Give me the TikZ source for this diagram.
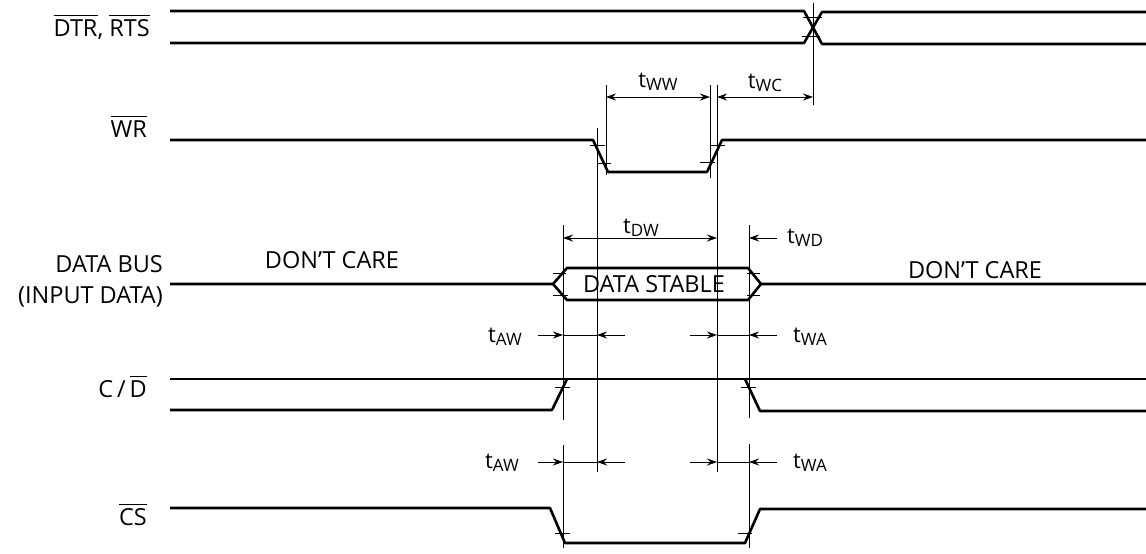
\documentclass[tikz,border=0pt]{standalone}
\usepackage{fontspec}
\setmainfont{Open Sans}
\usepackage{amsmath}
\usepackage{tikz}
\usetikzlibrary{arrows.meta, positioning, calc}
\tikzstyle{wave} = [line width=2.6pt, line join=round]
\tikzstyle{guide} = [line width=0.9pt]
\tikzstyle{tick} = [line width=0.8pt]
\tikzstyle{dim} = [line width=0.9pt, {Stealth[length=10pt,width=7pt]}-{Stealth[length=10pt,width=7pt]}]
\tikzstyle{arrow} = [line width=0.9pt, -{Stealth[length=10pt,width=7pt]}]
\tikzstyle{signame} = [anchor=base east, inner sep=0pt, font=\fontsize{23.5}{26}\selectfont]
\tikzstyle{state} = [anchor=base, inner sep=0pt, font=\fontsize{23.5}{26}\selectfont]
\tikzstyle{tlabel} = [inner sep=0pt, font=\fontsize{22}{24}\selectfont]
\newcommand{\ovl}[1]{$\overline{\mbox{#1}}$}
\newcommand{\tsub}[1]{t\raisebox{-3pt}{\fontsize{17}{17}\selectfont #1}}

\begin{document}
\begin{tikzpicture}[x=1pt, y=-1pt]
\useasboundingbox (0,0) rectangle (1146,554);

% Signal names
\node (dtr_name) [signame] at (150,36) {\ovl{DTR}, \ovl{RTS}};
\node (wr_name) [signame] at (147,137) {\ovl{WR}};
\node (bus_name) [signame] at (163,272) {DATA BUS};
\node (bus_name2) [signame] at (163,303) {(INPUT DATA)};
\node (cd_name) [signame] at (147,397) {C\,/\,\ovl{D}};
\node (cs_name) [signame] at (147,525) {\ovl{CS}};

% Waveforms
\draw [wave] (170,11) -- (804,11) -- (822,44) -- (1146,44);
\draw [wave] (170,43) -- (804,43) -- (822,12) -- (1146,12);
\draw [wave] (170,140) -- (593,140) -- (608,172) -- (707,172) -- (722,140) -- (1146,140);
\draw [wave] (170,284) -- (553,284) -- (567,268) -- (748,268) -- (761,284) -- (1146,284);
\draw [wave] (553,284) -- (567,300) -- (748,300) -- (761,284);
\draw [wave] (170,379) -- (1146,379);
\draw [wave] (170,410) -- (552,410) -- (567,379);
\draw [wave] (745,379) -- (760,411) -- (1146,411);
\draw [wave] (170,508) -- (550,508) -- (565,543) -- (745,543) -- (760,509) -- (1146,509);

% Bus states
\node (care_l) [state] at (332,268) {DON’T CARE};
\node (stable) [state] at (654,292) {DATA STABLE};
\node (care_r) [state] at (975,278) {DON’T CARE};

% Timing guides
\coordinate (ga) at (563,0);
\coordinate (gb) at (597,0);
\coordinate (gc) at (717,0);
\coordinate (gd) at (749,0);
\coordinate (gw1) at (606,0);
\coordinate (gw2) at (710,0);
\coordinate (gk) at (813,0);
\coordinate (r_ww) at (0,97);
\coordinate (r_dw) at (0,238);
\coordinate (r_aw1) at (0,335);
\coordinate (r_aw2) at (0,462);

\draw [guide] ($(gk)+(0,3)$) -- ($(gk)+(0,105)$);
\draw [guide] ($(gw1)+(0,85)$) -- ($(gw1)+(0,175)$);
\draw [guide] ($(gw2)+(0,85)$) -- ($(gw2)+(0,178)$);
\draw [guide] ($(gb)+(0,128)$) -- ($(gb)+(0,472)$);
\draw [guide] ($(gc)+(0,85)$) -- ($(gc)+(0,472)$);
\draw [guide] ($(ga)+(0,225)$) -- ($(ga)+(0,420)$);
\draw [guide] ($(ga)+(0,445)$) -- ($(ga)+(0,548)$);
\draw [guide] ($(gd)+(0,225)$) -- ($(gd)+(0,418)$);
\draw [guide] ($(gd)+(0,444)$) -- ($(gd)+(0,548)$);

% Edge ticks
\draw [tick] (803,17) -- (822,17);
\draw [tick] (802,36) -- (820,36);
\draw [tick] (590,145) -- (605,145);
\draw [tick] (598,163) -- (611,163);
\draw [tick] (711,145) -- (725,145);
\draw [tick] (700,162) -- (715,162);
\draw [tick] (553,273) -- (566,273);
\draw [tick] (553,295) -- (568,295);
\draw [tick] (747,273) -- (760,273);
\draw [tick] (747,295) -- (760,295);
\draw [tick] (555,387) -- (570,387);
\draw [tick] (741,387) -- (756,387);
\draw [tick] (555,533) -- (570,533);
\draw [tick] (738,533) -- (752,533);

% Timing parameters
\draw [dim] (gw1 |- r_ww) -- (gw2 |- r_ww);
\node (t_ww) [tlabel, anchor=base] at (658,87) {\tsub{WW}};
\draw [dim] (gc |- r_ww) -- (gk |- r_ww);
\node (t_wc) [tlabel, anchor=base] at (765,88) {\tsub{WC}};

\draw [dim] (ga |- r_dw) -- (gc |- r_dw);
\node (t_dw) [tlabel, anchor=base] at (641,233) {\tsub{DW}};
\draw [arrow] ($(gd |- r_dw)+(28,0)$) -- (gd |- r_dw);
\node (t_wd) [tlabel, anchor=base west] at (787,243) {\tsub{WD}};

\draw [arrow] ($(ga |- r_aw1)+(-25,0)$) -- (ga |- r_aw1);
\draw [guide] (ga |- r_aw1) -- (gb |- r_aw1);
\draw [arrow] ($(gb |- r_aw1)+(28,0)$) -- (gb |- r_aw1);
\draw [arrow] ($(gc |- r_aw1)+(-27,0)$) -- (gc |- r_aw1);
\draw [guide] (gc |- r_aw1) -- (gd |- r_aw1);
\draw [arrow] ($(gd |- r_aw1)+(28,0)$) -- (gd |- r_aw1);
\node (t_aw1) [tlabel, anchor=base east] at (522,342) {\tsub{AW}};
\node (t_wa1) [tlabel, anchor=base west] at (793,342) {\tsub{WA}};

\draw [arrow] ($(ga |- r_aw2)+(-25,0)$) -- (ga |- r_aw2);
\draw [guide] (ga |- r_aw2) -- (gb |- r_aw2);
\draw [arrow] ($(gb |- r_aw2)+(28,0)$) -- (gb |- r_aw2);
\draw [arrow] ($(gc |- r_aw2)+(-27,0)$) -- (gc |- r_aw2);
\draw [guide] (gc |- r_aw2) -- (gd |- r_aw2);
\draw [arrow] ($(gd |- r_aw2)+(28,0)$) -- (gd |- r_aw2);
\node (t_aw2) [tlabel, anchor=base east] at (519,468) {\tsub{AW}};
\node (t_wa2) [tlabel, anchor=base west] at (793,468) {\tsub{WA}};

\end{tikzpicture}
\end{document}
